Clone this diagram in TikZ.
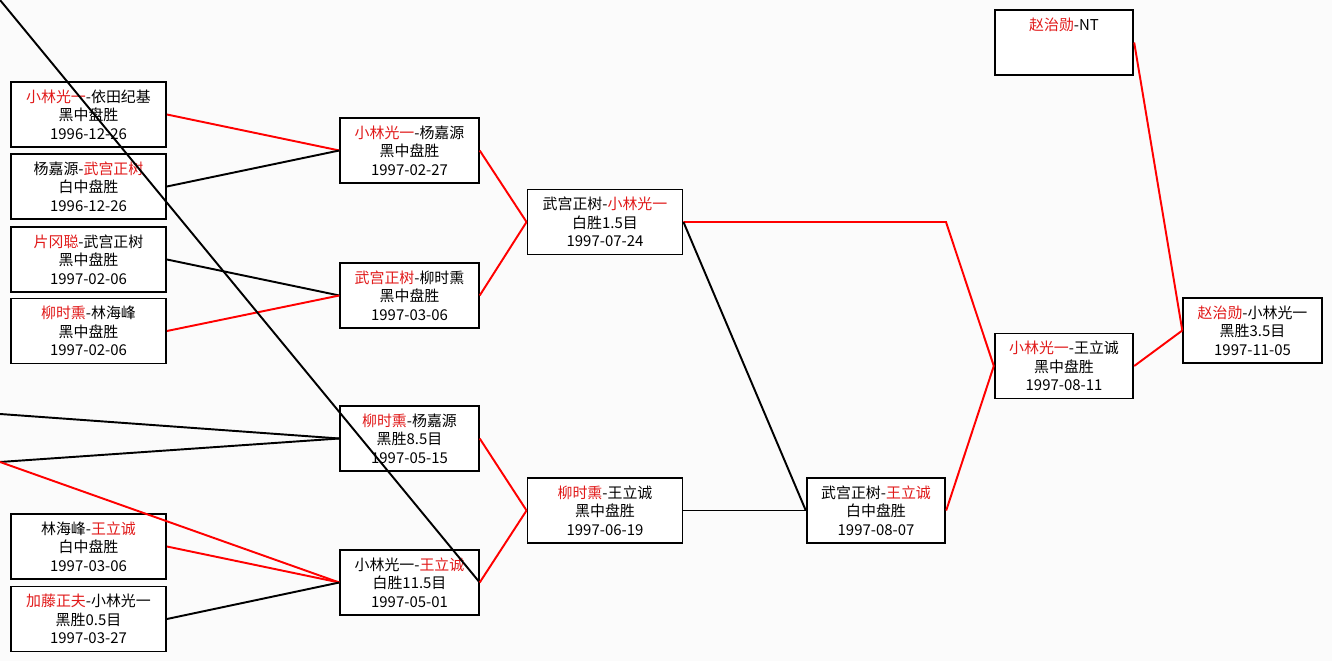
\documentclass[tikz,border=0pt]{standalone}
\usepackage{fontspec}
\setmainfont{Noto Sans CJK SC}
\usetikzlibrary{positioning}
\definecolor{wred}{RGB}{225,25,25}
\newcommand{\winner}[1]{\textcolor{wred}{#1}}

\begin{document}
\begin{tikzpicture}[x=0.02cm, y=-0.02cm,
    game/.style={draw, rectangle, fill=white, line width=1.1pt, minimum height=1.3cm, align=center, inner sep=1pt, font=\fontsize{8.5}{10.6}\selectfont},
    wide/.style={game, minimum width=3.1cm},
    narrow/.style={game, minimum width=2.77cm},
    win/.style={red, line width=1.1pt},
    loss/.style={black, line width=1.1pt}]

    % Background and bounding box
    \fill [gray!3] (0,0) rectangle (1332,661);
    \useasboundingbox (0,0) rectangle (1332,661);

    % Round 1
    \node [wide] (a1) at (88.5,114.5) {\winner{小林光一}-依田纪基\\黑中盘胜\\1996-12-26};
    \node [wide] (a2) at (88.5,186.5) {杨嘉源-\winner{武宫正树}\\白中盘胜\\1996-12-26};
    \node [wide] (a3) at (88.5,259.5) {\winner{片冈聪}-武宫正树\\黑中盘胜\\1997-02-06};
    \node [wide] (a4) at (88.5,331) {\winner{柳时熏}-林海峰\\黑中盘胜\\1997-02-06};
    \node [wide] (a5) at (88.5,546.5) {林海峰-\winner{王立诚}\\白中盘胜\\1997-03-06};
    \node [wide] (a6) at (88.5,619) {\winner{加藤正夫}-小林光一\\黑胜0.5目\\1997-03-27};

    % Round 2
    \node [narrow] (b1) at (409.5,150.5) {\winner{小林光一}-杨嘉源\\黑中盘胜\\1997-02-27};
    \node [narrow] (b2) at (409.5,295.5) {\winner{武宫正树}-柳时熏\\黑中盘胜\\1997-03-06};
    \node [narrow] (b3) at (409.5,438.5) {\winner{柳时熏}-杨嘉源\\黑胜8.5目\\1997-05-15};
    \node [narrow] (b4) at (409.5,582.5) {小林光一-\winner{王立诚}\\白胜11.5目\\1997-05-01};

    % Round 3
    \node [wide] (c1) at (605,222) {武宫正树-\winner{小林光一}\\白胜1.5目\\1997-07-24};
    \node [wide] (c2) at (605,510.5) {\winner{柳时熏}-王立诚\\黑中盘胜\\1997-06-19};

    % Round 4
    \node [narrow] (d1) at (876,510.5) {武宫正树-\winner{王立诚}\\白中盘胜\\1997-08-07};

    % Semi final and final
    \node [narrow] (e0) at (1064,42.5) {\winner{赵治勋}-NT\\~\\~};
    \node [narrow] (e1) at (1064,366) {\winner{小林光一}-王立诚\\黑中盘胜\\1997-08-11};
    \node [narrow] (f1) at (1252.5,330.5) {\winner{赵治勋}-小林光一\\黑胜3.5目\\1997-11-05};

    % Lines coming in from outside the picture
    \coordinate (in1) at (0,414);
    \coordinate (in2) at (0,462);
    \coordinate (in3) at (0,0);
    \coordinate (bend) at (946,222);

    % Connections: round 1 to round 2
    \draw [win] (a1.east) -- (b1.west);
    \draw [loss] (a2.east) -- (b1.west);
    \draw [loss] (a3.east) -- (b2.west);
    \draw [win] (a4.east) -- (b2.west);
    \draw [loss] (in1) -- (b3.west);
    \draw [loss] (in2) -- (b3.west);
    \draw [win] (in2) -- (b4.west);
    \draw [win] (a5.east) -- (b4.west);
    \draw [loss] (a6.east) -- (b4.west);
    \draw [loss] (in3) -- (b4.east);

    % Connections: round 2 to round 3
    \draw [win] (b1.east) -- (c1.west);
    \draw [win] (b2.east) -- (c1.west);
    \draw [win] (b3.east) -- (c2.west);
    \draw [win] (b4.east) -- (c2.west);

    % Connections: later rounds
    \draw [win] (c1.east) -- (bend) -- (e1.west);
    \draw [loss] (c1.east) -- (d1.west);
    \draw [loss] (c2.east) -- (d1.west);
    \draw [win] (d1.east) -- (e1.west);
    \draw [win] (e1.east) -- (f1.west);
    \draw [win] (e0.east) -- (f1.west);
\end{tikzpicture}
\end{document}
